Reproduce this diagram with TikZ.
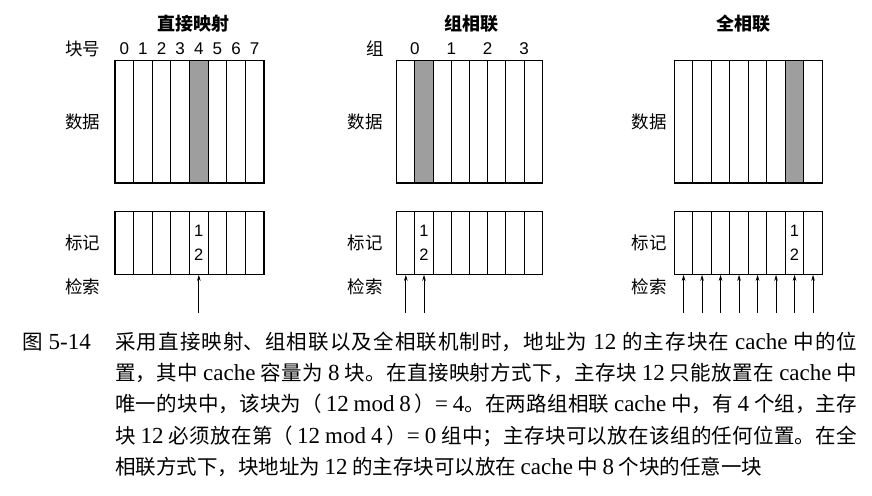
\documentclass[tikz,border=0pt]{standalone}
\usepackage{fontspec}
\setmainfont{Liberation Serif}
\newfontfamily\cjk{Noto Sans CJK SC}
\newfontfamily\sans{Liberation Sans}
\usetikzlibrary{arrows.meta}
% CJK run inside the serif caption text
\newcommand\zh[1]{{\cjk\fontsize{20.5}{31.2}\selectfont #1}}
\definecolor{shade}{gray}{0.62}

\tikzset{
  cell/.style={draw, line width=1.1pt, inner sep=0pt},
  datacell/.style={cell, minimum height=122.3pt},
  tagcell/.style={cell, minimum height=62.6pt},
  title/.style={font=\cjk\bfseries\fontsize{18}{20}\selectfont, inner sep=0pt},
  lbl/.style={font=\cjk\fontsize{17.5}{20}\selectfont, inner sep=0pt},
  idx/.style={font=\sans\fontsize{17}{20}\selectfont, inner sep=0pt},
  tagnum/.style={font=\sans\fontsize{16.5}{24.5}\selectfont, align=center, inner sep=0pt},
  probe/.style={line width=0.8pt, -{Stealth[length=6pt,width=3.6pt]}},
}

% #1 prefix, #2 left edge, #3 column width, #4 shaded data column, #5 tag column holding 12
\newcommand\cachepanel[5]{%
  \foreach \i in {0,...,7}{%
    \pgfmathsetmacro\cx{#2+(\i+0.5)*#3}%
    \ifnum\i=#4\relax\def\cellfill{shade}\else\def\cellfill{white}\fi
    \node[datacell, minimum width=#3pt, fill=\cellfill] (#1d\i) at (\cx,121.85) {};
    \node[tagcell, minimum width=#3pt] (#1t\i) at (\cx,243) {};
  }%
  \node[tagnum] (#1num) at (#1t#5) {1\\2};
}

\begin{document}
\begin{tikzpicture}[x=1pt, y=-1pt]
\useasboundingbox (0,0) rectangle (872,495);
\coordinate (probebase) at (0,313);

% ---- direct mapped ----
\cachepanel{dm}{115}{18.625}{4}{4}
\node[title] (dmtitle) at (193,24) {直接映射};
\node[lbl] (dmrow) at (82.5,49) {块号};
\foreach \i in {0,...,7}{\node[idx] (dmidx\i) at (dmd\i |- dmrow) {\i};}
\node[lbl] (dmdata) at (82.5,122) {数据};
\node[lbl] (dmtag) at (82.5,243) {标记};
\node[lbl] (dmsearch) at (82.5,287) {检索};
\foreach \i in {4}{
  \coordinate (dma\i) at (dmt\i.south |- probebase);
  \draw[probe] (dma\i) -- (dmt\i.south);
}

% ---- set associative ----
\cachepanel{sa}{396.7}{18.2}{1}{1}
\node[title] (satitle) at (471.7,24) {组相联};
\node[lbl] (sarow) at (375,49) {组};
\foreach \k in {0,...,3}{
  \pgfmathsetmacro\sx{396.7+(2*\k+1)*18.2}
  \node[idx] (saidx\k) at (\sx,49) {\k};
}
\node[lbl] (sadata) at (365,122) {数据};
\node[lbl] (satag) at (365,243) {标记};
\node[lbl] (sasearch) at (365,287) {检索};
\foreach \i in {0,1}{
  \coordinate (saa\i) at (sat\i.south |- probebase);
  \draw[probe] (saa\i) -- (sat\i.south);
}

% ---- fully associative ----
\cachepanel{fa}{674.3}{18.5}{6}{6}
\node[title] (fatitle) at (743.3,24) {全相联};
\node[lbl] (fadata) at (649,122) {数据};
\node[lbl] (fatag) at (649,243) {标记};
\node[lbl] (fasearch) at (649,287) {检索};
\foreach \i in {0,...,7}{
  \coordinate (faa\i) at (fat\i.south |- probebase);
  \draw[probe] (faa\i) -- (fat\i.south);
}

% ---- caption ----
\node[anchor=base west, inner sep=0pt, font=\fontsize{23}{26}\selectfont] (fignum) at (22,349.5) {\zh{图}\hspace{6pt}5-14};
\node[anchor=base west, inner sep=0pt] (caption) at (115,349.5) {\parbox[t]{742pt}{%
\fontsize{23}{31.2}\selectfont
\spaceskip=4.5pt plus 4pt minus 1pt\relax
\XeTeXlinebreaklocale "zh"\XeTeXlinebreakskip=0pt plus 3pt\relax
\zh{采用直接映射、组相联以及全相联机制时，地址为} 12 \zh{的主存块在} cache \zh{中的位}\linebreak
\zh{置，其中} cache \zh{容量为} 8 \zh{块。在直接映射方式下，主存块} 12 \zh{只能放置在} cache \zh{中}\linebreak
\zh{唯一的块中，该块为（}\,12 mod 8\,\zh{）}= 4\zh{。在两路组相联} cache \zh{中，有} 4 \zh{个组，主存}\linebreak
\zh{块} 12 \zh{必须放在第（}\,12 mod 4\,\zh{）}= 0 \zh{组中；主存块可以放在该组的任何位置。在全}\linebreak
\zh{相联方式下，块地址为} 12 \zh{的主存块可以放在} cache \zh{中} 8 \zh{个块的任意一块}}};
\end{tikzpicture}
\end{document}
